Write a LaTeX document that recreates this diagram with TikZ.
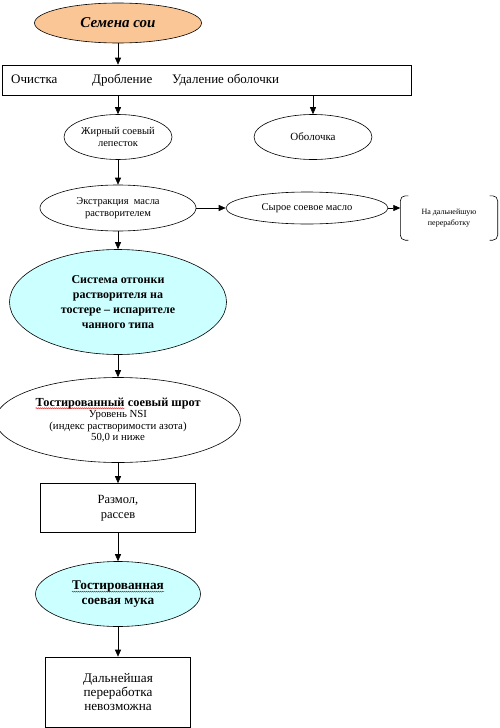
\documentclass[tikz,border=0pt]{standalone}
\usepackage{fontspec}
\setmainfont{Liberation Serif}
\usetikzlibrary{arrows.meta,shapes.geometric,decorations.pathmorphing}

\definecolor{seedorange}{RGB}{250,198,150}
\definecolor{toastcyan}{RGB}{204,255,255}

\newcommand{\wavyword}[1]{\tikz[baseline=(w.base)]{%
  \node[rectangle,draw=none,fill=none,inner sep=0pt,minimum size=0pt] (w) {#1};
  \draw[red,line width=0.4pt,decorate,decoration={snake,amplitude=0.5pt,segment length=2pt}]
    ([yshift=-2pt]w.base west) -- ([yshift=-2pt]w.base east);}}

\tikzset{
  oval/.style={ellipse,draw,line width=0.6pt,inner sep=0pt,align=center,
    font=\fontsize{10.5}{12.5}\selectfont},
  plainbox/.style={rectangle,draw,line width=0.6pt,inner sep=0pt,align=center,
    font=\fontsize{13}{14.5}\selectfont},
  arr/.style={-{Triangle[length=7pt,width=6pt]},line width=0.6pt},
}

\begin{document}
\begin{tikzpicture}[x=1pt,y=-1pt]
\useasboundingbox (0,0) rectangle (500,728);

\node[oval,fill=seedorange,minimum width=167,minimum height=40,
  font=\fontsize{15}{17}\selectfont\bfseries\itshape] (seed) at (118,23) {Семена сои};

% preparation line
\node[plainbox,minimum width=409,minimum height=30] (prep) at (206.5,80) {};
\begin{scope}[every node/.style={anchor=base west,inner sep=0pt,font=\fontsize{13}{14}\selectfont}]
\node (clean) at (11,83) {Очистка};
\node (crush) at (92,83) {Дробление};
\node (hull) at (172,83) {Удаление оболочки};
\end{scope}

\node[oval,minimum width=108,minimum height=45] (flake) at (118,137) {Жирный соевый\\лепесток};
\node[oval,minimum width=118,minimum height=45,font=\fontsize{11}{13}\selectfont] (husk) at (313,137) {Оболочка};

\node[oval,minimum width=156,minimum height=46] (extr) at (118,208) {Экстракция~~масла\\растворителем};
\node[oval,minimum width=162,minimum height=32] (oil) at (307,208) {Сырое соевое масло};
\node[align=center,minimum width=97,minimum height=44,inner sep=0pt,
  font=\fontsize{8}{10.5}\selectfont] (further) at (449,218) {На дальнейшую\\переработку};
\draw[line width=0.6pt,rounded corners=5pt]
  ([xshift=8]further.north west) -- (further.north west) -- (further.south west) -- ([xshift=8]further.south west);
\draw[line width=0.6pt,rounded corners=5pt]
  ([xshift=-8]further.north east) -- (further.north east) -- (further.south east) -- ([xshift=-8]further.south east);

\node[oval,fill=toastcyan,minimum width=217,minimum height=105,
  font=\fontsize{12}{15}\selectfont\bfseries] (desolv) at (118,302)
  {Система отгонки\\растворителя на\\тостере -- испарителе\\чанного типа};

\node[oval,minimum width=245,minimum height=85,font=\fontsize{10.8}{11.5}\selectfont] (meal) at (118,420)
  {{\fontsize{12.3}{14}\selectfont\bfseries\wavyword{Тостированный} соевый шрот}\\
   Уровень NSI\\(индекс растворимости азота)\\50,0 и ниже};

\node[plainbox,minimum width=155,minimum height=49,font=\fontsize{12.5}{15}\selectfont] (mill) at (118,508) {Размол,\\рассев};

\node[oval,fill=toastcyan,minimum width=165,minimum height=65,
  font=\fontsize{13.3}{14.5}\selectfont\bfseries] (flour) at (118,594)
  {\wavyword{Тостированная}\\соевая мука};

\node[plainbox,minimum width=145,minimum height=70,font=\fontsize{13.2}{14}\selectfont] (final) at (118,692)
  {Дальнейшая\\переработка\\невозможна};

% arrows
\draw[arr] (seed) -- (seed |- prep.north);
\draw[arr] (prep.south -| flake) -- (flake);
\draw[arr] (prep.south -| husk) -- (husk);
\foreach \a/\b in {flake/extr,extr/desolv,desolv/meal,meal/mill,mill/flour,flour/final}
  \draw[arr] (\a) -- (\b);
\draw[arr] (extr) -- (oil);
\draw[arr] (oil) -- (oil -| further.west);

\end{tikzpicture}
\end{document}
